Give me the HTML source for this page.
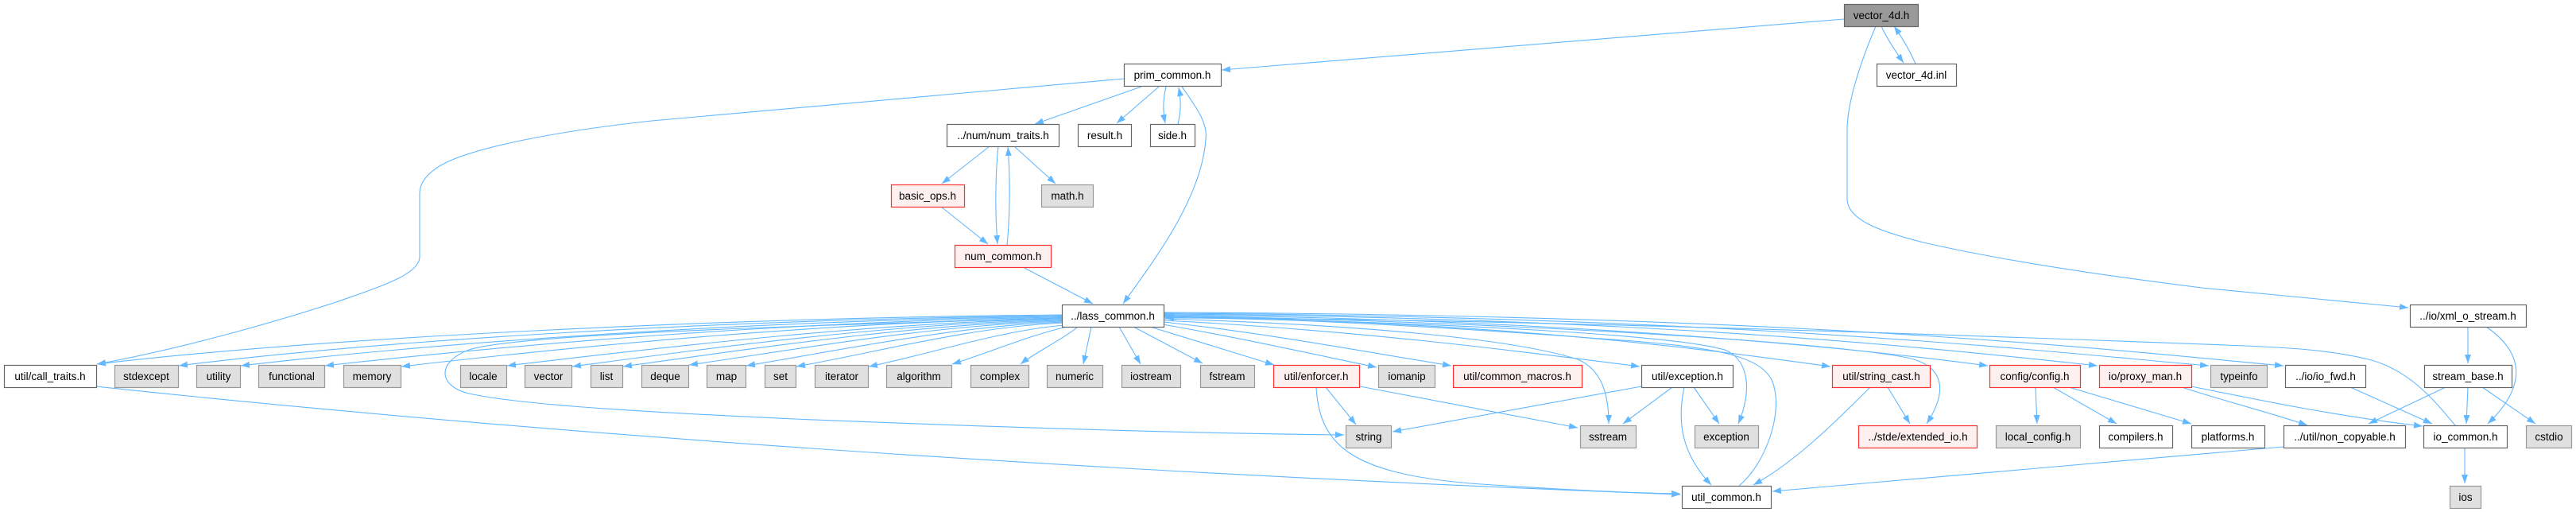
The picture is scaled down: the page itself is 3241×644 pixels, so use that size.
<!DOCTYPE html>
<html><head><meta charset="utf-8"><style>
html,body{margin:0;padding:0;background:#fff;}
svg{display:block;}
text{font-family:"Liberation Sans",sans-serif;font-size:13.5px;fill:#000;text-anchor:middle;}
.e{fill:none;stroke:#63B8FF;stroke-width:1.1;marker-end:url(#a);}
.w{fill:#fff;stroke:#666;stroke-width:1.2;}
.g{fill:#E0E0E0;stroke:#999;stroke-width:1.2;}
.r{fill:#FFF0F0;stroke:#FF3030;stroke-width:1.2;}
.m{fill:#999;stroke:#666;stroke-width:1.2;}
</style></head><body>
<svg width="3241" height="644" viewBox="0 0 3241 644" xmlns="http://www.w3.org/2000/svg">
<defs><marker id="a" markerWidth="11" markerHeight="8" refX="11" refY="4" orient="auto" markerUnits="userSpaceOnUse"><path d="M0,0 L11,4 L0,8 z" fill="#63B8FF"/></marker></defs>

<!-- top edges -->
<path class="e" d="M2320,24 L1537,88"/>
<path class="e" d="M2367,33 C2375,50 2385,65 2395,79"/>
<path class="e" d="M2410,80 C2402,62 2393,47 2383,33"/>
<path class="e" d="M2360,33 C2340,80 2324,130 2324,163 L2324,250 C2324,275 2360,290 2420,305 C2520,328 2650,347 2770,362 L3030,387"/>
<path class="e" d="M1436,109 L1302,156"/>
<path class="e" d="M1458,109 L1405,155"/>
<path class="e" d="M1467,109 C1463,125 1463,140 1466,155"/>
<path class="e" d="M1482,156 C1486,140 1486,125 1483,110"/>
<path class="e" d="M1487,109 C1505,135 1520,155 1517,175 C1512,250 1450,330 1413,382"/>
<path class="e" d="M1414,99 L820,152 C700,165 600,185 560,205 C535,218 528,232 528,243 L528,323 C528,345 480,360 423,380 C330,410 220,440 122,458"/>
<path class="e" d="M1245,184 L1185,231"/>
<path class="e" d="M1276,184 L1328,231"/>
<path class="e" d="M1256,184 C1252,220 1252,270 1255,307"/>
<path class="e" d="M1267,308 C1271,270 1271,220 1268,185"/>
<path class="e" d="M1184,260 L1243,307"/>
<path class="e" d="M1287,336 L1375,382"/>

<!-- class_common fan left -->
<path class="e" d="M1336,396 C900,400 400,425 122,458"/>
<path class="e" d="M1336,397 C900,402 480,428 225,460"/>
<path class="e" d="M1336,398 C950,403 560,430 303,460"/>
<path class="e" d="M1336,399 C1000,404 660,432 409,460"/>
<path class="e" d="M1336,400 C1050,405 740,434 505,461"/>
<path class="e" d="M1336,401 C1100,406 850,435 638,460"/>
<path class="e" d="M1336,402 C1120,407 900,437 720,461"/>
<path class="e" d="M1336,403 C1150,408 950,438 784,461"/>
<path class="e" d="M1337,404 C1170,409 1000,440 867,459"/>
<path class="e" d="M1338,405 C1200,410 1050,442 939,460"/>
<path class="e" d="M1339,406 C1220,411 1100,444 1002,461"/>
<path class="e" d="M1340,409 C1260,415 1160,448 1093,461"/>
<path class="e" d="M1343,411 C1300,420 1240,445 1198,458"/>
<path class="e" d="M1356,411 C1340,425 1300,445 1284,458"/>
<path class="e" d="M1373,411 L1363,458"/>
<path class="e" d="M1408,411 L1435,458"/>
<path class="e" d="M1426,411 L1513,457"/>
<path class="e" d="M1447,411 L1603,459"/>
<path class="e" d="M1336,400 C1000,410 650,420 590,440 C550,455 550,485 590,495 C650,508 780,517 1000,527 C1300,539 1500,545 1691,547"/>

<!-- class_common fan right -->
<path class="e" d="M1463,408 C1560,425 1650,445 1732,462"/>
<path class="e" d="M1464,405 C1600,420 1720,443 1826,460"/>
<path class="e" d="M1464,403 C1700,415 1900,440 2063,461"/>
<path class="e" d="M1464,401 C1700,408 1900,425 1985,452 C2015,465 2024,495 2024,533"/>
<path class="e" d="M1464,399 C1800,405 2100,420 2170,440 C2200,452 2205,490 2187,533"/>
<path class="e" d="M2188,611 C2220,585 2245,520 2230,480 C2215,445 2150,435 2000,425 C1800,410 1600,400 1466,398"/>
<path class="e" d="M1464,398 C1900,405 2150,440 2303,461"/>
<path class="e" d="M1464,397 C1900,405 2300,430 2400,450 C2445,460 2452,490 2424,533"/>
<path class="e" d="M1464,396 C2000,402 2350,440 2501,460"/>
<path class="e" d="M1464,395 C2100,400 2450,440 2639,460"/>
<path class="e" d="M1464,394 C2200,398 2600,445 2779,460"/>
<path class="e" d="M1464,393 C2300,396 2700,445 2873,460"/>
<path class="e" d="M3089,535 C3060,500 3030,465 2980,452 C2930,440 2880,437 2800,434 C2300,415 1800,400 1466,400"/>

<!-- lower edges -->
<path class="e" d="M121,486 C700,548 1400,595 2114,622"/>
<path class="e" d="M1656,487 C1660,560 1700,595 1850,608 C1950,615 2050,620 2114,621"/>
<path class="e" d="M1711,486 L1985,538"/>
<path class="e" d="M1668,487 L1706,534"/>
<path class="e" d="M2065,486 L1752,543"/>
<path class="e" d="M2104,487 L2042,533"/>
<path class="e" d="M2131,487 L2163,533"/>
<path class="e" d="M2119,487 C2110,530 2115,570 2153,610"/>
<path class="e" d="M2353,487 C2310,530 2260,580 2206,610"/>
<path class="e" d="M2375,487 L2403,533"/>
<path class="e" d="M2873,562 L2230,618"/>
<path class="e" d="M2561,487 L2563,533"/>
<path class="e" d="M2583,487 L2663,533"/>
<path class="e" d="M2603,487 L2757,533"/>
<path class="e" d="M2745,487 C2800,505 2860,520 2903,535"/>
<path class="e" d="M2757,486 C2850,505 2950,525 3048,536"/>
<path class="e" d="M2957,487 L3060,533"/>
<path class="e" d="M3077,487 L2980,533"/>
<path class="e" d="M3105,487 L3103,533"/>
<path class="e" d="M3123,487 L3190,533"/>
<path class="e" d="M3105,411 L3105,457"/>
<path class="e" d="M3128,411 C3170,440 3185,480 3130,533"/>
<path class="e" d="M3101,563 L3101,608"/>

<!-- nodes -->
<rect class="m" x="2320.5" y="5.5" width="93" height="28"/><text x="2367" y="24">vector_4d.h</text>
<rect class="w" x="1414.5" y="80.5" width="122" height="28"/><text x="1475" y="99">prim_common.h</text>
<rect class="w" x="2361.5" y="80.5" width="100" height="28"/><text x="2411" y="99">vector_4d.inl</text>
<rect class="w" x="1191.5" y="156.5" width="141" height="28"/><text x="1262" y="175">../num/num_traits.h</text>
<rect class="w" x="1356.5" y="156.5" width="67" height="28"/><text x="1390" y="175">result.h</text>
<rect class="w" x="1447.5" y="156.5" width="56" height="28"/><text x="1475" y="175">side.h</text>
<rect class="r" x="1121.5" y="232.5" width="92" height="28"/><text x="1167" y="251">basic_ops.h</text>
<rect class="g" x="1310.5" y="232.5" width="65" height="28"/><text x="1343" y="251">math.h</text>
<rect class="r" x="1201.5" y="308.5" width="121" height="28"/><text x="1262" y="327">num_common.h</text>
<rect class="w" x="1336.5" y="383.5" width="128" height="28"/><text x="1400" y="402">../lass_common.h</text>
<rect class="w" x="3032.5" y="383.5" width="146" height="28"/><text x="3105" y="402">../io/xml_o_stream.h</text>

<rect class="w" x="5.5" y="459.5" width="116" height="28"/><text x="63" y="478">util/call_traits.h</text>
<rect class="g" x="144.5" y="459.5" width="80" height="28"/><text x="184" y="478">stdexcept</text>
<rect class="g" x="247.5" y="459.5" width="55" height="28"/><text x="275" y="478">utility</text>
<rect class="g" x="325.5" y="459.5" width="83" height="28"/><text x="367" y="478">functional</text>
<rect class="g" x="432.5" y="459.5" width="72" height="28"/><text x="468" y="478">memory</text>
<rect class="g" x="579.5" y="459.5" width="58" height="28"/><text x="608" y="478">locale</text>
<rect class="g" x="660.5" y="459.5" width="59" height="28"/><text x="690" y="478">vector</text>
<rect class="g" x="743.5" y="459.5" width="40" height="28"/><text x="763" y="478">list</text>
<rect class="g" x="807.5" y="459.5" width="59" height="28"/><text x="837" y="478">deque</text>
<rect class="g" x="889.5" y="459.5" width="49" height="28"/><text x="914" y="478">map</text>
<rect class="g" x="962.5" y="459.5" width="39" height="28"/><text x="982" y="478">set</text>
<rect class="g" x="1025.5" y="459.5" width="67" height="28"/><text x="1059" y="478">iterator</text>
<rect class="g" x="1115.5" y="459.5" width="82" height="28"/><text x="1156" y="478">algorithm</text>
<rect class="g" x="1221.5" y="459.5" width="73" height="28"/><text x="1258" y="478">complex</text>
<rect class="g" x="1317.5" y="459.5" width="70" height="28"/><text x="1352" y="478">numeric</text>
<rect class="g" x="1411.5" y="459.5" width="74" height="28"/><text x="1448" y="478">iostream</text>
<rect class="g" x="1510.5" y="459.5" width="68" height="28"/><text x="1544" y="478">fstream</text>
<rect class="r" x="1602.5" y="459.5" width="108" height="28"/><text x="1656" y="478">util/enforcer.h</text>
<rect class="g" x="1734.5" y="459.5" width="71" height="28"/><text x="1770" y="478">iomanip</text>
<rect class="r" x="1828.5" y="459.5" width="162" height="28"/><text x="1909" y="478">util/common_macros.h</text>
<rect class="w" x="2065.5" y="459.5" width="115" height="28"/><text x="2123" y="478">util/exception.h</text>
<rect class="r" x="2305.5" y="459.5" width="123" height="28"/><text x="2367" y="478">util/string_cast.h</text>
<rect class="r" x="2503.5" y="459.5" width="114" height="28"/><text x="2560" y="478">config/config.h</text>
<rect class="r" x="2641.5" y="459.5" width="116" height="28"/><text x="2699" y="478">io/proxy_man.h</text>
<rect class="g" x="2781.5" y="459.5" width="71" height="28"/><text x="2817" y="478">typeinfo</text>
<rect class="w" x="2875.5" y="459.5" width="101" height="28"/><text x="2926" y="478">../io/io_fwd.h</text>
<rect class="w" x="3050.5" y="459.5" width="110" height="28"/><text x="3105" y="478">stream_base.h</text>

<rect class="g" x="1693.5" y="535.5" width="57" height="28"/><text x="1722" y="554">string</text>
<rect class="g" x="1988.5" y="535.5" width="70" height="28"/><text x="2023" y="554">sstream</text>
<rect class="g" x="2132.5" y="535.5" width="80" height="28"/><text x="2172" y="554">exception</text>
<rect class="r" x="2338.5" y="535.5" width="149" height="28"/><text x="2413" y="554">../stde/extended_io.h</text>
<rect class="g" x="2511.5" y="535.5" width="106" height="28"/><text x="2564" y="554">local_config.h</text>
<rect class="w" x="2641.5" y="535.5" width="92" height="28"/><text x="2687" y="554">compilers.h</text>
<rect class="w" x="2757.5" y="535.5" width="92" height="28"/><text x="2803" y="554">platforms.h</text>
<rect class="w" x="2873.5" y="535.5" width="153" height="28"/><text x="2950" y="554">../util/non_copyable.h</text>
<rect class="w" x="3049.5" y="535.5" width="105" height="28"/><text x="3102" y="554">io_common.h</text>
<rect class="g" x="3178.5" y="535.5" width="57" height="28"/><text x="3207" y="554">cstdio</text>

<rect class="w" x="2116.5" y="611.5" width="112" height="28"/><text x="2172" y="630">util_common.h</text>
<rect class="g" x="3082.5" y="611.5" width="39" height="28"/><text x="3102" y="630">ios</text>
</svg>
</body></html>
